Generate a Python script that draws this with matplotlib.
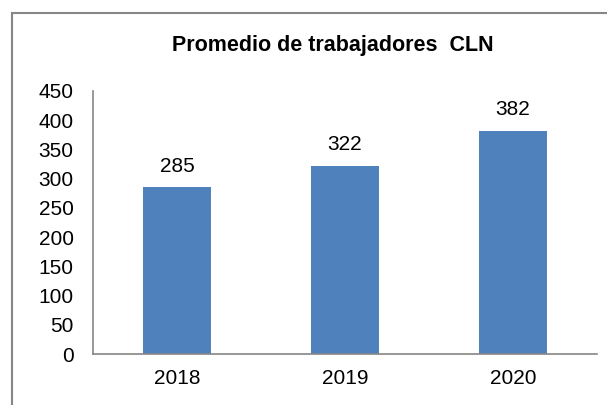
import matplotlib
matplotlib.use("Agg")
import matplotlib.pyplot as plt
from matplotlib.patches import Rectangle

plt.rcParams['font.family'] = ['Liberation Sans', 'DejaVu Sans']

years = ["2018", "2019", "2020"]
workers = [285, 322, 382]
y_ticks = [0, 50, 100, 150, 200, 250, 300, 350, 400, 450]

fig = plt.figure(figsize=(6.07, 4.05), dpi=100)
ax = fig.add_axes([93 / 607, 1 - 354 / 405, (597 - 93) / 607, (354 - 91) / 405])

bars = ax.bar(years, workers, width=0.405, color="#4F81BD")
for b, v in zip(bars, workers):
    ax.annotate(str(v), (b.get_x() + b.get_width() / 2, v), xytext=(0, 8.5),
                textcoords="offset points", ha="center", va="bottom", fontsize=15)

ax.set_ylim(0, 450)
ax.set_xlim(-0.5, 2.5)
ax.set_yticks(y_ticks)
ax.tick_params(axis="y", length=0, pad=14, labelsize=15)
ax.tick_params(axis="x", length=0, pad=11, labelsize=15)
for s in ["top", "right"]:
    ax.spines[s].set_visible(False)
for s in ["left", "bottom"]:
    ax.spines[s].set_color("#868686")
    ax.spines[s].set_linewidth(1.2)

fig.text(333 / 607, 1 - 46 / 405, "Promedio de trabajadores  CLN", ha="center",
         va="center", fontsize=15.5, fontweight="bold")

# chart frame (cropped on right and bottom)
fig.patches.append(Rectangle((12 / 607, -0.1), 1.2, 1 - 13 / 405 + 0.1,
                             transform=fig.transFigure, fill=False,
                             edgecolor="#868686", linewidth=1.5))

fig.savefig("out.png", dpi=100)
